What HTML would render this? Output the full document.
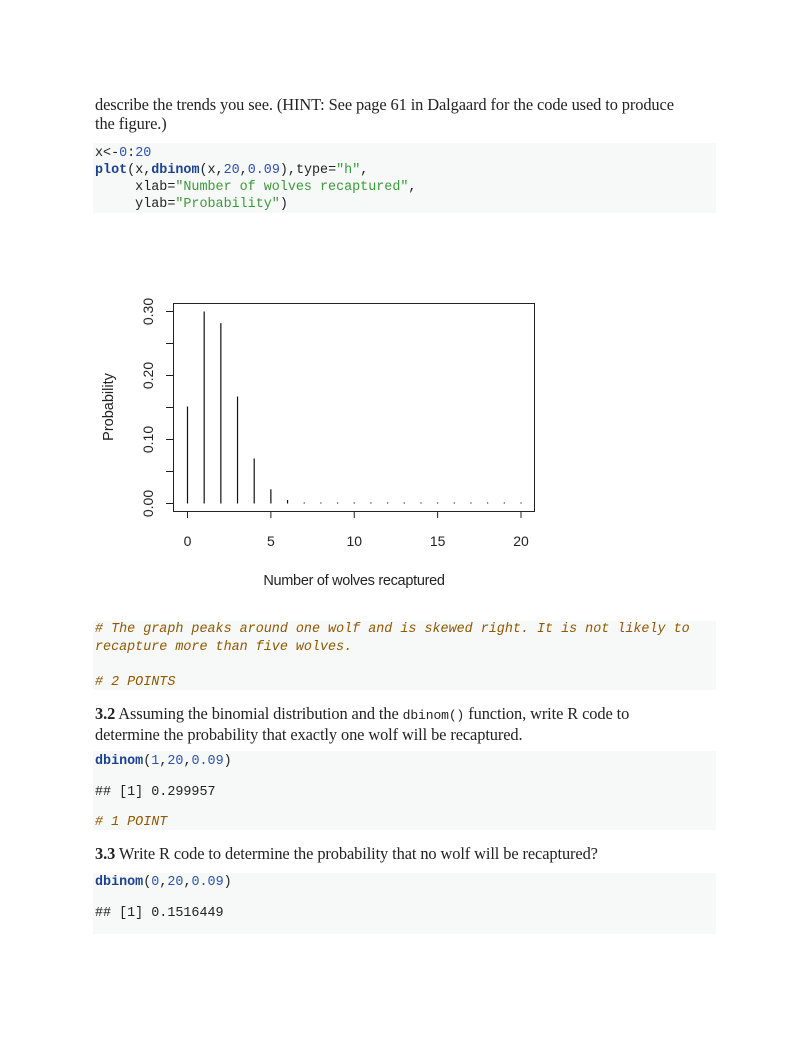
<!DOCTYPE html>
<html><head><meta charset="utf-8">
<style>
body{margin:0;width:808px;height:1045px;background:#fff;position:relative;overflow:hidden}
.t{position:absolute;left:95px;font-family:"Liberation Serif",serif;font-size:16.4px;color:#222;line-height:19px;white-space:nowrap;letter-spacing:-0.1px}
.cb{position:absolute;left:93px;width:623px;background:#f7f8f8}
.c{position:absolute;left:95px;font-family:"Liberation Mono",monospace;font-size:13.4px;color:#222;white-space:pre;line-height:17px}
.k{color:#1f3f8f;font-weight:bold}.n{color:#3050b0}.s{color:#3a9a3a}.cm{color:#8f5902;font-style:italic}
svg text{font-family:"Liberation Sans",sans-serif;fill:#222}
</style></head><body>
<div class="t" style="top:95px">describe the trends you see. (HINT: See page 61 in Dalgaard for the code used to produce<br>the figure.)</div>
<div class="cb" style="top:143px;height:70px"></div>
<div class="c" style="top:145px">x&lt;-<span class="n">0</span>:<span class="n">20</span>
<span class="k">plot</span>(x,<span class="k">dbinom</span>(x,<span class="n">20</span>,<span class="n">0.09</span>),type=<span class="s">"h"</span>,
     xlab=<span class="s">"Number of wolves recaptured"</span>,
     ylab=<span class="s">"Probability"</span>)</div>

<svg id="chart" style="position:absolute;left:0;top:0" width="808" height="1045"></svg>

<div class="cb" style="top:621px;height:69px"></div>
<div class="c cm" style="top:621px;line-height:17.5px"># The graph peaks around one wolf and is skewed right. It is not likely to
recapture more than five wolves.

# 2 POINTS</div>
<div class="t" style="top:704px"><b>3.2</b> Assuming the binomial distribution and the <span style="font-family:'Liberation Mono',monospace;font-size:13px">dbinom()</span> function, write R code to<br>determine the probability that exactly one wolf will be recaptured.</div>
<div class="cb" style="top:751px;height:79px"></div>
<div class="c" style="top:754px;line-height:15.3px"><span class="k">dbinom</span>(<span class="n">1</span>,<span class="n">20</span>,<span class="n">0.09</span>)

## [1] 0.299957

<span class="cm"># 1 POINT</span></div>
<div class="t" style="top:844px"><b>3.3</b> Write R code to determine the probability that no wolf will be recaptured?</div>
<div class="cb" style="top:873px;height:61px"></div>
<div class="c" style="top:875px;line-height:15.5px"><span class="k">dbinom</span>(<span class="n">0</span>,<span class="n">20</span>,<span class="n">0.09</span>)

## [1] 0.1516449</div>

<script>
const xs=[0,1,2,3,4,5,6,7,8,9,10,11,12,13,14,15,16,17,18,19,20];
const probs=[0.1516,0.3000,0.2818,0.1672,0.0703,0.0222,0.0055,0.0011,0.0002,0,0,0,0,0,0,0,0,0,0,0,0];
const xTicks=[0,5,10,15,20];
const yTicks=[0,0.05,0.10,0.15,0.20,0.25,0.30];
const yLabels=["0.00","","0.10","","0.20","","0.30"];
const NS="http://www.w3.org/2000/svg";
const svg=document.getElementById('chart');
const X=v=>187.5+v*(521-187.5)/20;
const Y=v=>503.5-v*640;
function mk(t,a){const e=document.createElementNS(NS,t);for(const k in a)e.setAttribute(k,a[k]);svg.appendChild(e);return e;}
let box=mk('rect',{x:173.5,y:303.5,width:361,height:208,fill:'none',stroke:'#222','stroke-width':1});


xs.forEach((x,i)=>{
  const y2=Math.min(Y(probs[i]),Y(0)-1);
  const l=mk('line',{x1:X(x),x2:X(x),y1:Y(0),y2:y2,stroke:'#111','stroke-width':1.2});
  
  
});
xTicks.forEach(v=>{
  const l=mk('line',{x1:X(v),x2:X(v),y1:511,y2:518,stroke:'#222'});
  
  
  const t=mk('text',{x:X(v),y:546,'font-size':14,'text-anchor':'middle'});t.textContent=v;
  
  
});
yTicks.forEach((v,i)=>{
  const l=mk('line',{x1:166,x2:173,y1:Y(v),y2:Y(v),stroke:'#222'});
  
  
  if(yLabels[i]){const t=mk('text',{x:0,y:0,'font-size':14,'text-anchor':'middle',transform:`translate(153,${Y(v)}) rotate(-90)`});t.textContent=yLabels[i];
  
  }
});
let xt=mk('text',{x:354,y:585,'font-size':14.5,'text-anchor':'middle','letter-spacing':'-0.3'});xt.textContent='Number of wolves recaptured';


let yt=mk('text',{x:0,y:0,'font-size':14.5,'text-anchor':'middle',transform:'translate(113,407) rotate(-90)'});yt.textContent='Probability';


</script>
</body></html>
